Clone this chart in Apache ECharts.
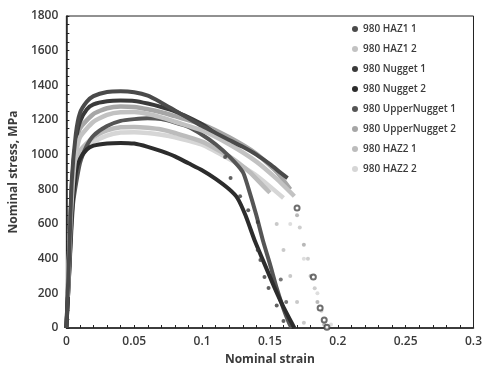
<!DOCTYPE html>
<html>
<head>
<meta charset="utf-8">
<script src="https://cdn.jsdelivr.net/npm/echarts@6/dist/echarts.min.js"></script>
<style>
  html, body { margin: 0; padding: 0; background: #fff; }
  #chart { width: 485px; height: 374px; }
</style>
</head>
<body>
<div id="chart"></div>
<script>
// series names, in legend order
var names = ['980 HAZ1 1', '980 HAZ1 2', '980 Nugget 1', '980 Nugget 2',
    '980 UpperNugget 1', '980 UpperNugget 2', '980 HAZ2 1', '980 HAZ2 2'];
var colors = ['#4a4a4a', '#c2c2c2', '#3a3a3a', '#2c2c2c', '#555555', '#a6a6a6', '#bcbcbc', '#d6d6d6'];

// [strain, stress MPa]: continuous part of each curve
var haz1_1 = [[0, 0], [0.002, 400], [0.004, 850], [0.007, 1120], [0.01, 1240], [0.015, 1305], [0.02, 1338],
    [0.03, 1362], [0.04, 1366], [0.05, 1360], [0.06, 1340], [0.07, 1300], [0.08, 1255], [0.09, 1210],
    [0.1, 1165], [0.11, 1125], [0.12, 1085], [0.13, 1045], [0.14, 1000], [0.15, 945], [0.158, 895], [0.163, 865]];
var haz1_2 = [[0.001, 180], [0.003, 600], [0.006, 950], [0.01, 1100], [0.02, 1190], [0.03, 1230], [0.04, 1245],
    [0.05, 1246], [0.06, 1235], [0.07, 1215], [0.08, 1190], [0.1, 1140], [0.12, 1060], [0.14, 960],
    [0.155, 860], [0.168, 760]];
var nugget_1 = [[0, 0], [0.002, 380], [0.004, 820], [0.007, 1080], [0.01, 1190], [0.015, 1260], [0.02, 1290],
    [0.03, 1308], [0.04, 1312], [0.05, 1310], [0.06, 1295], [0.07, 1275], [0.08, 1250], [0.09, 1215],
    [0.1, 1175], [0.11, 1120], [0.115, 1085]];
var nugget_2 = [[0, 0], [0.002, 300], [0.004, 650], [0.007, 900], [0.01, 975], [0.015, 1030], [0.02, 1052],
    [0.03, 1065], [0.04, 1068], [0.05, 1064], [0.06, 1045], [0.07, 1020], [0.08, 990], [0.09, 950],
    [0.1, 910], [0.11, 860], [0.12, 800], [0.126, 750], [0.132, 650], [0.139, 500], [0.146, 370],
    [0.153, 240], [0.16, 120], [0.166, 30], [0.168, 0]];
var upper_1 = [[0, 0], [0.002, 300], [0.005, 720], [0.01, 950], [0.015, 1050], [0.02, 1110], [0.03, 1165],
    [0.04, 1195], [0.05, 1205], [0.06, 1210], [0.07, 1205], [0.08, 1185], [0.09, 1160], [0.1, 1115],
    [0.11, 1060], [0.12, 990], [0.13, 900], [0.134, 810], [0.14, 650], [0.145, 500], [0.15, 370],
    [0.155, 230], [0.16, 110], [0.164, 30], [0.166, 0]];
var upper_2 = [[0.001, 200], [0.003, 620], [0.006, 1000], [0.01, 1150], [0.02, 1235], [0.03, 1268], [0.04, 1278],
    [0.05, 1275], [0.06, 1262], [0.07, 1245], [0.08, 1222], [0.1, 1175], [0.12, 1100], [0.14, 1005],
    [0.155, 900], [0.165, 800]];
var haz2_1 = [[0.001, 180], [0.003, 560], [0.006, 880], [0.01, 1020], [0.02, 1100], [0.03, 1140], [0.04, 1158],
    [0.05, 1160], [0.06, 1155], [0.07, 1145], [0.08, 1125], [0.1, 1075], [0.12, 990], [0.135, 900],
    [0.145, 820], [0.15, 780]];
var haz2_2 = [[0.001, 170], [0.003, 520], [0.006, 840], [0.01, 980], [0.02, 1070], [0.03, 1110], [0.04, 1128],
    [0.05, 1130], [0.06, 1125], [0.07, 1115], [0.08, 1100], [0.1, 1058], [0.12, 975], [0.14, 880],
    [0.16, 750]];

// sparse points after fracture starts
var haz1_1Drop = [[0.17, 692], [0.182, 294], [0.187, 115], [0.19, 46], [0.192, 5]];
var haz1_2Drop = [[0.172, 580], [0.178, 400], [0.183, 230], [0.188, 100], [0.192, 10]];
var nugget_1Drop = [[0.117, 986], [0.121, 865], [0.128, 760], [0.134, 680], [0.141, 612], [0.141, 450],
    [0.143, 392], [0.146, 294], [0.149, 231], [0.155, 130], [0.16, 40]];
var nugget_2Drop = [];
var upper_1Drop = [[0.158, 280], [0.162, 150]];
var upper_2Drop = [[0.17, 650], [0.175, 480], [0.18, 300], [0.185, 150], [0.19, 20]];
var haz2_1Drop = [[0.155, 600], [0.16, 450], [0.165, 300], [0.17, 150], [0.175, 30]];
var haz2_2Drop = [[0.165, 600], [0.175, 400], [0.185, 200], [0.195, 20]];

var curves = [haz1_1, haz1_2, nugget_1, nugget_2, upper_1, upper_2, haz2_1, haz2_2];
var drops = [haz1_1Drop, haz1_2Drop, nugget_1Drop, nugget_2Drop, upper_1Drop, upper_2Drop, haz2_1Drop, haz2_2Drop];

var xTicks = [0, 0.05, 0.1, 0.15, 0.2, 0.25, 0.3];
var yTicks = [0, 200, 400, 600, 800, 1000, 1200, 1400, 1600, 1800];

var txt = '#3a3a3a';
var font = 'Open Sans';

var series = [];
for (var i = 0; i < names.length; i++) {
    series.push({
        type: 'line',
        name: names[i],
        data: curves[i],
        smooth: 0.2,
        showSymbol: false,
        lineStyle: {width: i == 1 || i >= 5 ? 4.5 : 4, color: colors[i]},
        itemStyle: {color: colors[i]},
        z: 10 - i
    });
    series.push({
        type: 'scatter',
        name: names[i],
        data: drops[i],
        symbol: i == 0 ? 'emptyCircle' : 'circle',
        symbolSize: i == 0 ? 5 : 4,
        itemStyle: {color: colors[i], borderWidth: 1.5},
        z: 10 - i
    });
}

var myChart = echarts.init(document.getElementById('chart'));
var option = {
    animation: false,
    grid: {left: 66, right: 5, top: 16, bottom: 46, show: true, borderColor: '#222', borderWidth: 1},
    legend: {
        data: names,
        orient: 'vertical',
        left: 347,
        top: 18,
        icon: 'circle',
        itemWidth: 6,
        itemHeight: 6,
        itemGap: 8,
        textStyle: {color: txt, fontFamily: font, fontSize: 10, lineHeight: 12, fontWeight: 600}
    },
    xAxis: {
        type: 'value',
        min: xTicks[0],
        max: xTicks[xTicks.length - 1],
        interval: 0.05,
        name: 'Nominal strain',
        nameLocation: 'middle',
        nameGap: 26,
        nameTextStyle: {color: txt, fontFamily: font, fontSize: 12, fontWeight: 'bold'},
        axisLine: {lineStyle: {color: '#222', width: 1.5}},
        axisTick: {inside: true, length: 3, lineStyle: {color: '#222'}},
        minorTick: {show: true, splitNumber: 5, length: 3, lineStyle: {color: '#222'}},
        splitLine: {show: false},
        axisLabel: {color: txt, fontFamily: font, fontSize: 12, fontWeight: 600, margin: 8}
    },
    yAxis: {
        type: 'value',
        min: yTicks[0],
        max: yTicks[yTicks.length - 1],
        interval: 200,
        name: 'Nominal stress, MPa',
        nameLocation: 'middle',
        nameGap: 46,
        nameTextStyle: {color: txt, fontFamily: font, fontSize: 12, fontWeight: 'bold'},
        axisLine: {show: true, lineStyle: {color: '#222', width: 1.5}},
        axisTick: {show: true, inside: true, length: 3, lineStyle: {color: '#222'}},
        minorTick: {show: true, splitNumber: 4, length: 3, lineStyle: {color: '#222'}},
        splitLine: {show: false},
        axisLabel: {color: txt, fontFamily: font, fontSize: 12, fontWeight: 600, margin: 8,
            formatter: function (v) { return String(v); }}
    },
    series: series
};
myChart.setOption(option);
</script>
</body>
</html>
